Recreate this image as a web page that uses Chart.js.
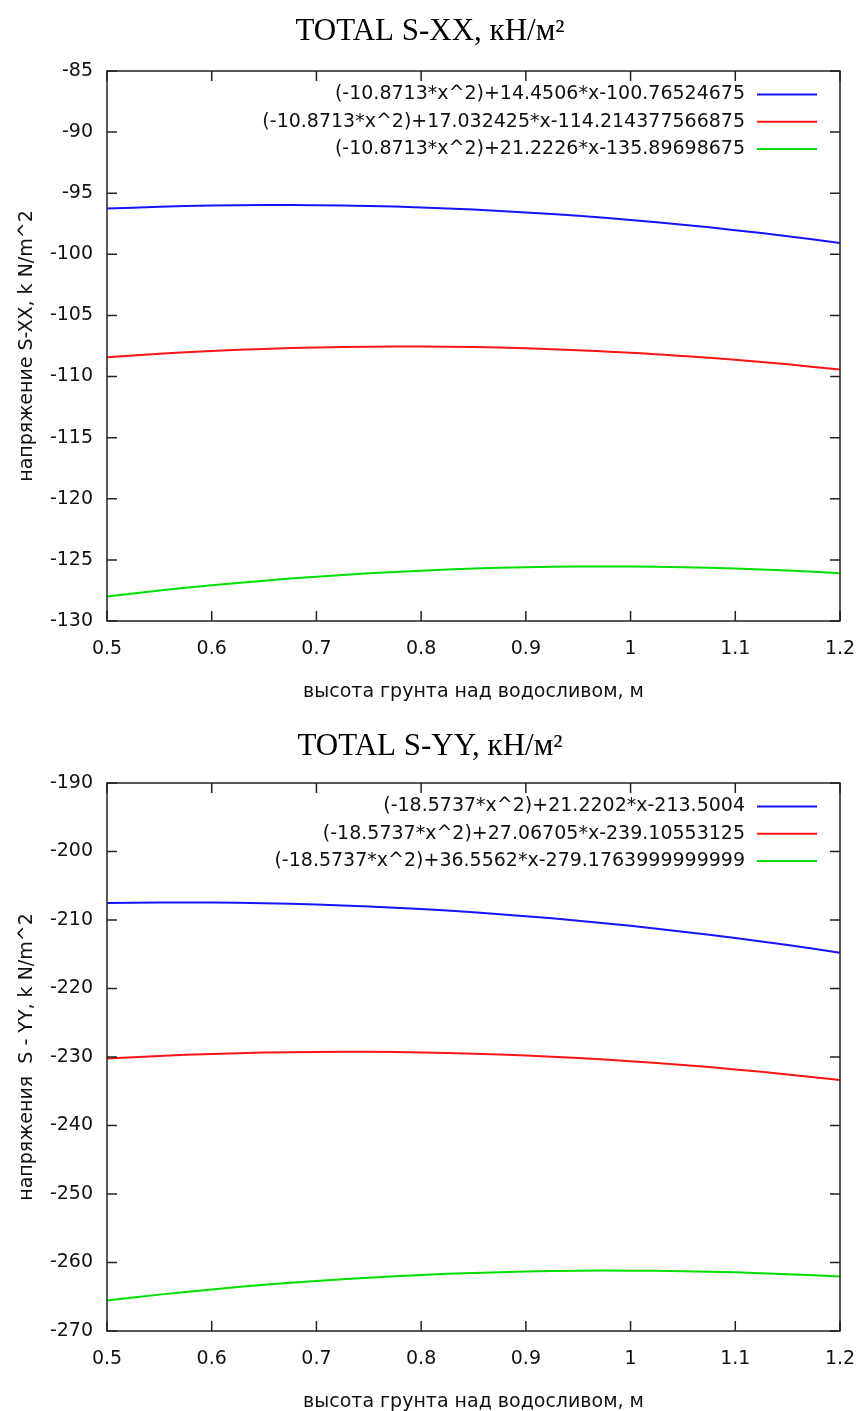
<!DOCTYPE html>
<html>
<head>
<meta charset="utf-8">
<script src="https://cdn.jsdelivr.net/npm/chart.js@4.4.1/dist/chart.umd.min.js"></script>
<style>
  html, body { margin: 0; padding: 0; background: #fff; overflow: hidden; }
  .box { position: absolute; left: 0; width: 860px; height: 712px; }
</style>
</head>
<body>
<div class="box" style="top:0"><canvas id="chartXX"></canvas></div>
<div class="box" style="top:710px"><canvas id="chartYY"></canvas></div>
<script>
// x positions (height of soil over the spillway, m)
const xValues = [0.5, 0.55, 0.6, 0.65, 0.7, 0.75, 0.8, 0.85, 0.9, 0.95, 1.0, 1.05, 1.1, 1.15, 1.2];

// S-XX chart
const sxxLabels = [
    '(-10.8713*x^2)+14.4506*x-100.76524675',
    '(-10.8713*x^2)+17.032425*x-114.214377566875',
    '(-10.8713*x^2)+21.2226*x-135.89698675'
];
const sxxBlue = [-96.26, -96.11, -96.01, -95.97, -95.98, -96.04, -96.16, -96.34, -96.57, -96.85, -97.19, -97.58, -98.02, -98.52, -99.08];
const sxxRed = [-108.42, -108.14, -107.91, -107.74, -107.62, -107.56, -107.55, -107.59, -107.69, -107.85, -108.05, -108.32, -108.63, -109.00, -109.43];
const sxxGreen = [-128.00, -127.51, -127.08, -126.70, -126.37, -126.10, -125.88, -125.71, -125.60, -125.55, -125.55, -125.60, -125.71, -125.87, -126.09];

// S-YY chart
const syyLabels = [
    '(-18.5737*x^2)+21.2202*x-213.5004',
    '(-18.5737*x^2)+27.06705*x-239.10553125',
    '(-18.5737*x^2)+36.5562*x-279.1763999999999'
];
const syyBlue = [-207.53, -207.45, -207.46, -207.56, -207.75, -208.03, -208.41, -208.88, -209.45, -210.10, -210.85, -211.70, -212.63, -213.66, -214.78];
const syyRed = [-230.22, -229.84, -229.55, -229.36, -229.26, -229.25, -229.34, -229.52, -229.79, -230.16, -230.61, -231.16, -231.81, -232.54, -233.37];
const syyGreen = [-265.54, -264.69, -263.93, -263.26, -262.69, -262.21, -261.82, -261.52, -261.32, -261.21, -261.19, -261.27, -261.44, -261.70, -262.06];

const lineColors = ['#1414ff', '#ff1414', '#00e000'];
const tickFont = { family: 'DejaVu Sans', size: 19 };

// gnuplot-like frame with inward ticks on all sides
const frameTicks = {
    id: 'frameTicks',
    afterDatasetsDraw(chart) {
        const { ctx, chartArea: a, scales: { x, y } } = chart;
        ctx.save();
        ctx.strokeStyle = '#222';
        ctx.lineWidth = 1.5;
        ctx.beginPath();
        x.ticks.forEach(t => {
            const px = x.getPixelForValue(t.value);
            ctx.moveTo(px, a.bottom); ctx.lineTo(px, a.bottom - 10);
            ctx.moveTo(px, a.top); ctx.lineTo(px, a.top + 10);
        });
        y.ticks.forEach(t => {
            const py = y.getPixelForValue(t.value);
            ctx.moveTo(a.left, py); ctx.lineTo(a.left + 10, py);
            ctx.moveTo(a.right, py); ctx.lineTo(a.right - 10, py);
        });
        ctx.stroke();
        ctx.strokeRect(a.left, a.top, a.right - a.left, a.bottom - a.top);
        ctx.restore();
    }
};

// key in the top right corner: text, then a line sample
const insideKey = {
    id: 'insideKey',
    afterDraw(chart) {
        const { ctx, chartArea: a } = chart;
        ctx.save();
        ctx.font = '19px "DejaVu Sans"';
        ctx.textAlign = 'right';
        ctx.textBaseline = 'middle';
        chart.data.datasets.forEach((ds, i) => {
            const yy = a.top + 23.5 + i * 27.3;
            ctx.fillStyle = '#111';
            ctx.fillText(ds.label, a.right - 95, yy);
            ctx.strokeStyle = ds.borderColor;
            ctx.lineWidth = 2;
            ctx.beginPath();
            ctx.moveTo(a.right - 83, yy);
            ctx.lineTo(a.right - 23, yy);
            ctx.stroke();
        });
        ctx.restore();
    }
};

function makeChart(id, title, titlePad, yTitle, yMin, yMax, yStep, labels, series) {
    const ctx = document.getElementById(id).getContext('2d');
    return new Chart(ctx, {
        type: 'line',
        data: {
            datasets: series.map((vals, i) => ({
                label: labels[i],
                data: xValues.map((xv, j) => ({ x: xv, y: vals[j] })),
                borderColor: lineColors[i],
                borderWidth: 2,
                pointRadius: 0,
                tension: 0.4,
                fill: false
            }))
        },
        options: {
            responsive: true,
            maintainAspectRatio: false,
            animation: false,
            layout: { padding: 0 },
            plugins: {
                legend: { display: false },
                tooltip: { enabled: false },
                title: {
                    display: true,
                    text: title,
                    color: '#000',
                    font: { family: 'Liberation Serif', size: 31, weight: 'normal', lineHeight: 1.2 },
                    padding: titlePad
                }
            },
            scales: {
                x: {
                    type: 'linear',
                    min: 0.5,
                    max: 1.2,
                    grid: { display: false, drawTicks: false },
                    border: { display: false },
                    ticks: {
                        stepSize: 0.1,
                        padding: 16.5,
                        color: '#111',
                        font: tickFont,
                        callback: v => String(Math.round(v * 10) / 10)
                    },
                    title: {
                        display: true,
                        text: 'высота грунта над водосливом, м',
                        color: '#111',
                        font: { family: 'DejaVu Sans', size: 19 },
                        padding: { top: 0, bottom: 8.6 }
                    },
                    afterFit: s => { s.height = 91; s.paddingLeft = 0; s.paddingRight = 20; }
                },
                y: {
                    min: yMin,
                    max: yMax,
                    grid: { display: false, drawTicks: false },
                    border: { display: false },
                    ticks: { stepSize: yStep, padding: 14, color: '#111', font: tickFont },
                    title: {
                        display: true,
                        text: yTitle,
                        color: '#111',
                        font: { family: 'DejaVu Sans', size: 19 },
                        padding: { top: 15.6, bottom: 0 }
                    },
                    afterFit: s => { s.width = 107; }
                }
            }
        },
        plugins: [frameTicks, insideKey]
    });
}

// title: 31px * 1.2 = 37.2 line box; centre at 32 / area top at 71
makeChart('chartXX', 'TOTAL S-XX, кН/м²', { top: 13.4, bottom: 20.4 },
    'напряжение S-XX, k N/m^2', -130, -85, 5, sxxLabels, [sxxBlue, sxxRed, sxxGreen]);

makeChart('chartYY', 'TOTAL S-YY, кН/м²', { top: 18.4, bottom: 17.4 },
    'напряжения  S - YY, k N/m^2', -270, -190, 10, syyLabels, [syyBlue, syyRed, syyGreen]);
</script>
</body>
</html>
